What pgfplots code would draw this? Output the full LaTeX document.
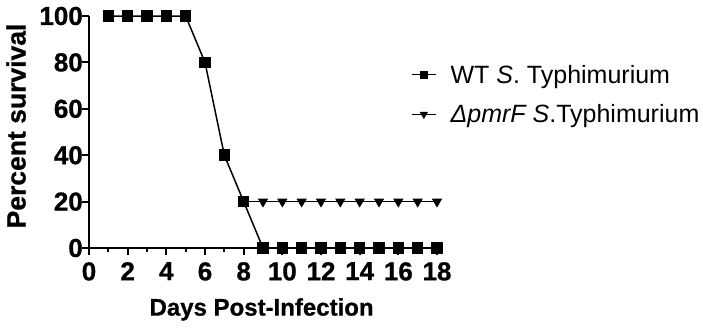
\documentclass[border=0pt]{standalone}
\usepackage{pgfplots}
\pgfplotsset{compat=1.18}
\usepackage{fontspec}
\setmainfont{Liberation Sans}
\newfontfamily\heavy{Liberation Sans Bold}[FakeBold=0.8]
\begin{document}
\begin{tikzpicture}
\useasboundingbox (-89pt,-79pt) rectangle (614pt,248pt);
\begin{axis}[
  scale only axis, width=348pt, height=232pt,
  xmin=0, xmax=18, ymin=0, ymax=100, clip=false,
  axis x line*=bottom, axis y line*=left,
  axis line style={line width=2.5pt, -},
  xtick={0,2,...,18}, minor xtick={1,3,...,17}, ytick={0,20,...,100},
  tick align=outside, xtick pos=bottom, ytick pos=left,
  major tick length=7pt, minor tick length=4pt,
  tick style={line width=2pt, black},
  /pgf/number format/assume math mode=true,
  tick label style={font=\heavy\fontsize{26}{26}\selectfont},
  xticklabel style={inner sep=0pt, yshift=-7pt},
  yticklabel style={inner sep=0pt, xshift=1pt},
  label style={font=\heavy\fontsize{24}{24}\selectfont},
  xlabel={Days Post-Infection}, ylabel={Percent survival},
  xlabel style={at={(axis description cs:0.496,0)}, anchor=north, yshift=-50pt, inner sep=0pt},
  ylabel style={at={(axis description cs:-0.181,0.526)}, anchor=south, inner sep=0pt,
    font=\heavy\fontsize{26.5}{26.5}\selectfont},
  legend style={draw=none, fill=none, at={(axis description cs:0.925,0.79)}, anchor=north west,
    inner sep=0pt, nodes={inner sep=0pt}, column sep=14pt, row sep=20pt,
    font=\fontsize{25}{25}\selectfont, cells={anchor=west}},
  legend image code/.code={
    \draw[mark repeat=2, mark phase=2, #1, mark size=3.3pt] plot coordinates {(0pt,0pt) (12pt,0pt) (24pt,0pt)};},
]
\addplot[black, line width=1.5pt, mark=triangle*, mark size=4.5pt, mark options={rotate=180, solid}, forget plot]
  coordinates {(8,20) (9,20) (10,20) (11,20) (12,20) (13,20) (14,20) (15,20) (16,20) (17,20) (18,20)};
\addplot[black, line width=1.5pt, mark=square*, mark size=5pt, mark options={solid}]
  coordinates {(1,100) (2,100) (3,100) (4,100) (5,100) (6,80) (7,40) (8,20) (9,0) (10,0) (11,0) (12,0) (13,0) (14,0) (15,0) (16,0) (17,0) (18,0)};
\addlegendentry{WT \textit{S}. Typhimurium}
\addlegendimage{black, line width=1.5pt, mark=triangle*, mark options={rotate=180, solid}}
\addlegendentry{\textit{ΔpmrF S}.Typhimurium}
\end{axis}
\end{tikzpicture}
\end{document}
